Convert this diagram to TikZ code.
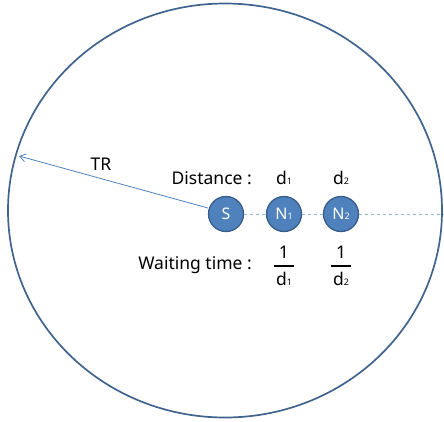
\documentclass[tikz,border=0pt]{standalone}
\usepackage{fontspec}
\setmainfont{Noto Sans}
\usetikzlibrary{arrows.meta}
\definecolor{nodefill}{HTML}{4F81BD}
\definecolor{nodeedge}{HTML}{385D8A}
\definecolor{ringcol}{HTML}{41648F}
\definecolor{dashcol}{HTML}{95B3D7}
\tikzset{
  x=1pt,y=-1pt,
  station/.style={circle,fill=nodefill,draw=nodeedge,line width=1.3pt,minimum size=35pt,inner sep=0pt,text=white,font=\fontsize{16}{16}\selectfont},
  lbl/.style={font=\fontsize{17.5}{19}\selectfont,inner sep=0pt},
  frac/.style={font=\fontsize{17.5}{19}\selectfont,inner sep=0pt},
}
\newcommand{\sbs}[1]{\raisebox{-0.5pt}{\fontsize{9}{9}\selectfont #1}}
\newcommand{\myfrac}[2]{$\displaystyle{\mbox{\hspace{5pt}#1\hspace{5pt}}\above 1.3pt\mbox{\rule{0pt}{15pt}#2}}$}
\begin{document}
\begin{tikzpicture}
\useasboundingbox (0,0) rectangle (444,421);
\draw[ringcol,line width=1.7pt] (225,210.5) ellipse [x radius=217, y radius=207];
\node[station] (S) at (226,214) {S};
\node[station] (N1) at (284,214) {N\sbs{1}};
\node[station] (N2) at (341,214) {N\sbs{2}};
\coordinate (E) at (444,214);
\coordinate (T) at (19,156);
\draw[dashcol,line width=0.8pt,dashed] (S) -- (N1);
\draw[dashcol,line width=0.8pt,dashed] (N1) -- (N2);
\draw[dashcol,line width=0.8pt,dashed] (N2) -- (E);
\draw[nodefill,line width=0.8pt,-{Straight Barb[length=6pt,width=8pt]}] (S.west) ++(0,-6) coordinate (Sa) -- (T);
\node[lbl] (TR) at (101,164) {TR};
\node[lbl,anchor=east] (dist) at (252,178) {Distance :};
\node[lbl] (d1) at (284,178) {d\sbs{1}};
\node[lbl] (d2) at (341,178) {d\sbs{2}};
\node[lbl,anchor=east] (wt) at (252,265) {Waiting time :};
\node[frac] (f1) at (284,266) {\myfrac{1}{d\sbs{1}}};
\node[frac] (f2) at (341,266) {\myfrac{1}{d\sbs{2}}};
\end{tikzpicture}
\end{document}
